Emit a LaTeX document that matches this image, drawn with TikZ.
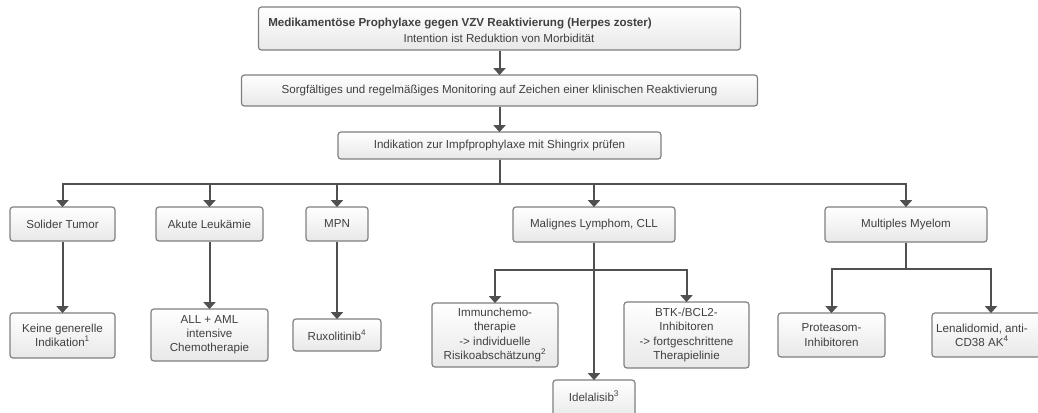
\documentclass[tikz,border=0pt]{standalone}
\usepackage{fontspec}
\setmainfont{Liberation Sans}
\usepackage{tikz}
\usetikzlibrary{arrows.meta,calc,positioning}
\definecolor{boxline}{HTML}{7F7F7F}
\definecolor{boxtext}{HTML}{404040}
\definecolor{wirecol}{HTML}{505050}
\tikzset{
  box/.style  = {draw=boxline, line width=0.9pt, rounded corners=2.2pt,
                 top color=white, bottom color=black!9, text=boxtext,
                 align=center, inner sep=2pt,
                 font=\fontsize{8.7}{10.6}\selectfont},
  sz/.style 2 args = {minimum width=#1*0.75pt, minimum height=#2*0.75pt},
  lbl/.style  = {text=boxtext, inner sep=0pt, font=\fontsize{8.7}{10.6}\selectfont},
  wire/.style = {draw=wirecol, line width=1.5pt},
  arr/.style  = {wire, -{Triangle[length=5.2pt, width=9pt]}, shorten >=-0.5pt},
}

\begin{document}
\begin{tikzpicture}[x=0.75pt,y=-0.75pt]
  \useasboundingbox (0,0) rectangle (1038,412);
  \clip (0,0) rectangle (1038,412);
  % Kopf
  \node[box,sz={482}{43}] (top) at (499.5,28.5) {};
  \node[lbl,anchor=west] (topA) at (268,24) {\bfseries Medikamentöse Prophylaxe gegen VZV Reaktivierung (Herpes zoster)};
  \node[lbl] (topB) at (499,38) {Intention ist Reduktion von Morbidität};
  \node[box,sz={516}{31}] (mon) at (499.5,90.5)
    {Sorgfältiges und regelmäßiges Monitoring auf Zeichen einer klinischen Reaktivierung};
  \node[box,sz={323}{27}] (impf) at (499.5,145.5) {Indikation zur Impfprophylaxe mit Shingrix prüfen};
  \coordinate (bus) at (499.5,184);
  % Entitaeten
  \node[box,sz={105}{34}] (solid) at (62.5,224) {Solider Tumor};
  \node[box,sz={107}{34}] (akut) at (209.5,224) {Akute Leukämie};
  \node[box,sz={62}{34}] (mpn) at (337,224) {MPN};
  \node[box,sz={162}{35}] (lymph) at (594,224.5) {Malignes Lymphom, CLL};
  \node[box,sz={162}{35}] (myel) at (906,224.5) {Multiples Myelom};
  % Massnahmen
  \node[box,sz={105}{45}] (keine) at (62.5,335.5) {Keine generelle\\Indikation\textsuperscript{1}};
  \node[box,sz={117}{52}] (aml) at (209.5,335) {ALL + AML\\intensive\\Chemotherapie};
  \node[box,sz={88}{32}] (rux) at (337,335) {Ruxolitinib\textsuperscript{4}};
  \node[box,sz={126}{64}] (immun) at (495,335)
    {Immunchemo-\\therapie\\-> individuelle\\Risikoabschätzung\textsuperscript{2}};
  \node[box,sz={125}{66}] (btk) at (686.5,335)
    {BTK-/BCL2-\\Inhibitoren\\-> fortgeschrittene\\Therapielinie};
  \node[box,sz={82}{40}] (idel) at (594,400) {};
  \node[lbl] (idelT) at (594,396) {Idelalisib\textsuperscript{3}};
  \node[box,sz={107}{44}] (prot) at (831.5,335) {Proteasom-\\Inhibitoren};
  \node[box,sz={118}{44}] (lena) at (991,335) {};
  \node[lbl,align=center] (lenaT) at (982,335) {Lenalidomid, anti-\\CD38 AK\textsuperscript{4}};
  \coordinate (lyb) at (594,270);
  \coordinate (myb) at (906,269);

  \draw[arr] (top) -- (mon);
  \draw[arr] (mon) -- (impf);
  \foreach \t in {solid,akut,mpn,lymph,myel}
    \draw[arr] (impf.south) -- (bus) -| (\t.north);
  \draw[arr] (solid) -- (keine);
  \draw[arr] (akut) -- (aml);
  \draw[arr] (mpn) -- (rux);
  \draw[arr] (lymph) -- (idel);
  \draw[arr] (lymph.south) -- (lyb) -| (immun.north);
  \draw[arr] (lymph.south) -- (lyb) -| (btk.north);
  \draw[arr] (myel.south) -- (myb) -| (prot.north);
  \draw[arr] (myel.south) -- (myb) -| (lena.north);
\end{tikzpicture}
\end{document}
